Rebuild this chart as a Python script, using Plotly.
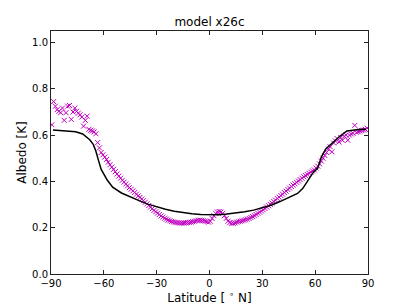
import numpy as np
import plotly.graph_objects as go

# Observed albedo (magenta x markers), 1-degree latitude bins
obs_lat = np.arange(-89.5, 90.0, 1.0)
obs_albedo = [
    0.645, 0.745, 0.725, 0.710, 0.703, 0.697, 0.717, 0.664, 0.697, 0.725,
    0.728, 0.668, 0.700, 0.717, 0.703, 0.695, 0.688, 0.678, 0.639, 0.664,
    0.682, 0.625, 0.621, 0.618, 0.614, 0.606, 0.568, 0.545, 0.525,
    0.515, 0.505, 0.495, 0.483, 0.472, 0.462, 0.452, 0.442, 0.432, 0.423,
    0.414, 0.405, 0.397, 0.389, 0.381, 0.373, 0.366, 0.359, 0.352, 0.345,
    0.338, 0.331, 0.324, 0.317, 0.310, 0.303, 0.296, 0.289, 0.282, 0.275,
    0.269, 0.263, 0.257, 0.251, 0.246, 0.241, 0.237, 0.233, 0.230, 0.227,
    0.225, 0.223, 0.222, 0.221, 0.220, 0.220, 0.220, 0.221, 0.222, 0.223,
    0.224, 0.226, 0.228, 0.230, 0.232, 0.233, 0.232, 0.230, 0.228, 0.226,
    0.224,
    0.228, 0.240, 0.252, 0.262, 0.268, 0.270, 0.268, 0.262, 0.252, 0.240,
    0.228, 0.222, 0.219, 0.219, 0.221, 0.224, 0.226, 0.228, 0.230, 0.232,
    0.234, 0.237, 0.240, 0.244, 0.248, 0.252, 0.257, 0.262, 0.267, 0.272,
    0.277, 0.283, 0.289, 0.295, 0.301, 0.307, 0.313, 0.319, 0.326, 0.332,
    0.339, 0.345, 0.352, 0.358, 0.365, 0.371, 0.378, 0.384, 0.390, 0.396,
    0.402, 0.408, 0.414, 0.420, 0.425, 0.430, 0.435, 0.440, 0.445, 0.450,
    0.458, 0.466, 0.476, 0.488, 0.500, 0.512, 0.525, 0.540, 0.550, 0.528,
    0.566, 0.575, 0.585, 0.570, 0.590, 0.578, 0.595, 0.600, 0.578, 0.600,
    0.605, 0.608, 0.642, 0.612, 0.614, 0.618, 0.620, 0.622, 0.625, 0.630,
]

# Model albedo (black line)
model_lat = [-88.9, -85, -80, -76, -72, -68, -66, -64.5, -63, -61.5, -58, -55,
             -50, -45, -40, -35, -30, -25, -20, -15, -10, -5, 0, 5, 10, 15,
             20, 25, 30, 35, 40, 45, 50, 53, 56, 59, 61.5, 63.5, 66, 70, 74,
             78, 82, 86, 88.9]
model_albedo = [0.622, 0.620, 0.617, 0.615, 0.605, 0.580, 0.560, 0.530, 0.490,
                0.452, 0.405, 0.375, 0.350, 0.332, 0.317, 0.302, 0.290, 0.280,
                0.271, 0.265, 0.260, 0.257, 0.255, 0.256, 0.259, 0.263, 0.269,
                0.276, 0.285, 0.297, 0.313, 0.330, 0.348, 0.370, 0.405, 0.440,
                0.458, 0.505, 0.540, 0.568, 0.595, 0.618, 0.622, 0.625, 0.625]

x_ticks = [-90, -60, -30, 0, 30, 60, 90]
y_ticks = [0.0, 0.2, 0.4, 0.6, 0.8, 1.0]

FONT = "DejaVu Sans"
W, H = 401, 299  # page body has an 8px default margin

fig = go.Figure()
fig.add_trace(go.Scatter(
    x=obs_lat, y=obs_albedo, mode="markers",
    marker=dict(symbol="x-thin", size=5, line=dict(color="#c000c0", width=1)),
    showlegend=False,
))
fig.add_trace(go.Scatter(
    x=model_lat, y=model_albedo, mode="lines",
    line=dict(color="black", width=1.5),
    showlegend=False,
))

axis_common = dict(
    showgrid=False, zeroline=False, showline=True, mirror="allticks",
    linecolor="#222222", linewidth=1, ticks="inside", ticklen=4,
    tickcolor="#222222", tickfont=dict(family=FONT, size=10, color="black"),
    automargin=False,
)

fig.update_layout(
    width=W, height=H,
    margin=dict(l=43, r=41, t=23, b=33),
    paper_bgcolor="white", plot_bgcolor="white",
    font=dict(family=FONT, color="black"),
    title=dict(text="model x26c", x=0.5, xref="paper", y=1 - 14 / H,
               yanchor="middle", font=dict(family=FONT, size=12)),
    xaxis=dict(range=[-90, 90], tickvals=x_ticks,
               title=dict(text="Latitude [ <sup>∘</sup> N]", standoff=0,
                          font=dict(family=FONT, size=12)),
               **axis_common),
    yaxis=dict(range=[0, 1.05], tickvals=y_ticks, tickformat=".1f",
               title=dict(text="Albedo [K]", standoff=2,
                          font=dict(family=FONT, size=12)),
               **axis_common),
)

fig.write_html("out.html")
